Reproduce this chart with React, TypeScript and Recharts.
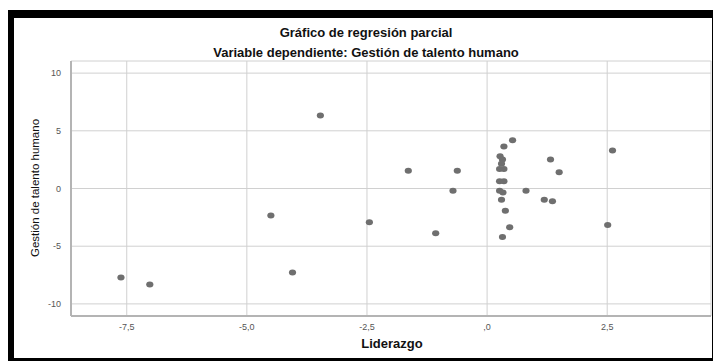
import React from "react";
import {
  CartesianGrid,
  Scatter,
  ScatterChart,
  XAxis,
  YAxis,
} from "recharts";

// Liderazgo (x) vs Gestión de talento humano (y), partial residuals
const liderazgo = [
  -7.62, -7.02, -3.47, -4.5, -4.05, -2.45, -1.64, -1.07, -0.62, -0.71,
  0.53, 0.35, 2.61, 1.32, 1.5, 0.81, 1.19, 1.36, 2.51, 0.3, 0.38, 0.47, 0.32,
  0.27, 0.32, 0.3, 0.26, 0.35, 0.26, 0.35, 0.26, 0.33,
];
const gestion = [
  -7.71, -8.31, 6.32, -2.34, -7.27, -2.92, 1.53, -3.87, 1.53, -0.2,
  4.18, 3.64, 3.29, 2.51, 1.41, -0.2, -0.98, -1.1, -3.17, -0.98, -1.93, -3.35, -4.21,
  2.8, 2.51, 2.14, 1.7, 1.7, 0.63, 0.63, -0.2, -0.35,
];
const xTicks = [-7.5, -5, -2.5, 0, 2.5];
const yTicks = [10, 5, 0, -5, -10];

const points = liderazgo.map((x, i) => ({ x, y: gestion[i] }));

const font = "'Liberation Sans', Arial, sans-serif";

const fmtX = (v: number) => (v === 0 ? ",0" : v.toFixed(1).replace(".", ","));

const Dot = (props: any) => (
  <ellipse cx={props.cx} cy={props.cy} rx={3.6} ry={3} fill="#6f6f6f" />
);

const titleStyle: React.CSSProperties = {
  position: "absolute",
  left: 0,
  width: 704,
  lineHeight: "14px",
  textAlign: "center",
  fontSize: 13,
  fontWeight: "bold",
  color: "#111",
};

const App = () => {
  return (
    <div style={{ marginLeft: -3, marginTop: 2 }}>
      <div
        style={{
          position: "relative",
          width: 698,
          height: 340,
          borderTop: "8px solid #000",
          borderLeft: "9px solid #000",
          borderRight: "6px solid #000",
          borderBottom: "3px solid #000",
          background: "#fff",
          fontFamily: font,
        }}
      >
        <ScatterChart
          width={698}
          height={340}
          margin={{ top: 43, right: 1, left: 0, bottom: 0 }}
        >
          <CartesianGrid stroke="#d0d0d0" strokeWidth={1} />
          <XAxis
            type="number"
            dataKey="x"
            domain={[-8.66, 4.66]}
            ticks={xTicks}
            tickFormatter={fmtX}
            height={42}
            tickLine={false}
            axisLine={{ stroke: "#b4b4b4", strokeWidth: 2 }}
            tick={{ fill: "#555", fontSize: 9, fontFamily: font }}
            tickMargin={2}
          />
          <YAxis
            type="number"
            dataKey="y"
            domain={[-11.05, 11.05]}
            ticks={yTicks}
            width={57}
            tickLine={false}
            axisLine={{ stroke: "#b4b4b4", strokeWidth: 2 }}
            tick={{ fill: "#555", fontSize: 9, fontFamily: font }}
            tickMargin={4}
          />
          <Scatter data={points} shape={Dot} isAnimationActive={false} />
        </ScatterChart>

        <div style={{ ...titleStyle, top: 8 }}>Gráfico de regresión parcial</div>
        <div style={{ ...titleStyle, top: 28 }}>
          Variable dependiente: Gestión de talento humano
        </div>
        <div
          style={{
            position: "absolute",
            left: 0,
            width: 756,
            top: 318,
            lineHeight: "16px",
            textAlign: "center",
            fontSize: 13,
            fontWeight: "bold",
            color: "#111",
          }}
        >
          Liderazgo
        </div>
        <div
          style={{
            position: "absolute",
            left: 21,
            top: 170,
            transform: "translate(-50%, -50%) rotate(-90deg)",
            whiteSpace: "nowrap",
            fontSize: 11.5,
            color: "#111",
          }}
        >
          Gestión de talento humano
        </div>
      </div>
    </div>
  );
};

export default App;
